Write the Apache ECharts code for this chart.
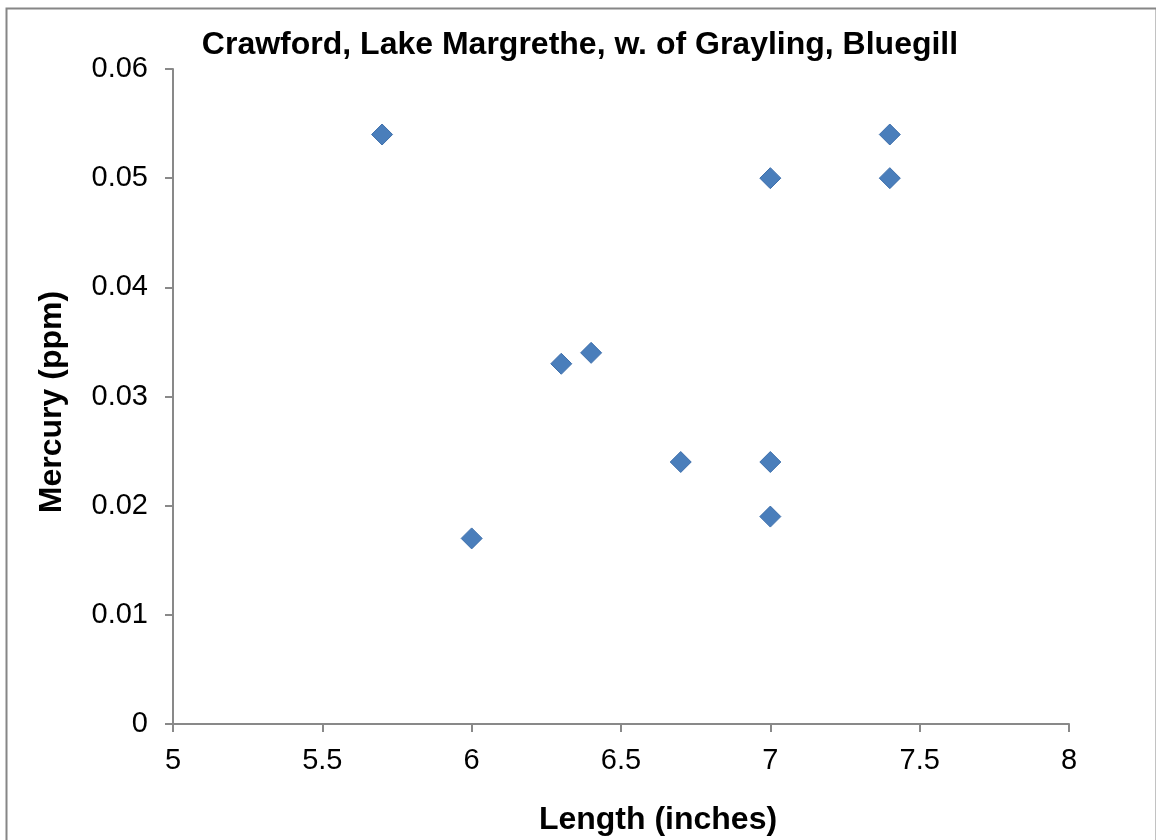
<!DOCTYPE html>
<html><head><meta charset="utf-8">
<script src="https://cdn.jsdelivr.net/npm/echarts@6/dist/echarts.min.js"></script>
<style>html,body{margin:0;padding:0;background:#fff}#c{width:1156px;height:840px}</style>
</head><body><div id="c"></div>
<script>
const title = "Crawford, Lake Margrethe, w. of Grayling, Bluegill";
const xName = "Length (inches)";
const yName = "Mercury (ppm)";
const lengths = [5.7, 6.0, 6.3, 6.4, 6.7, 7.0, 7.0, 7.0, 7.4, 7.4];
const mercury = [0.054, 0.017, 0.033, 0.034, 0.024, 0.050, 0.024, 0.019, 0.054, 0.050];
const points = lengths.map((x, i) => [x, mercury[i]]);
const font = "Liberation Sans, Arial, sans-serif";
const chart = echarts.init(document.getElementById('c'));
chart.setOption({
  animation: false,
  backgroundColor: '#fff',
  grid: {left: 173, right: 87, top: 69, bottom: 116},
  xAxis: {
    type: 'value', min: 5, max: 8, interval: 0.5,
    axisLine: {lineStyle: {color: '#898989', width: 2}},
    axisTick: {show: true, length: 8, lineStyle: {color: '#898989', width: 2}},
    splitLine: {show: false},
    axisLabel: {color: '#000', fontSize: 29, fontFamily: font, margin: 22}
  },
  yAxis: {
    type: 'value', min: 0, max: 0.06, interval: 0.01,
    axisLine: {show: true, lineStyle: {color: '#898989', width: 2}},
    axisTick: {show: true, length: 8, lineStyle: {color: '#898989', width: 2}},
    splitLine: {show: false},
    axisLabel: {color: '#000', fontSize: 29, fontFamily: font, margin: 25,
      formatter: v => v === 0 ? '0' : v.toFixed(2)}
  },
  series: [{
    type: 'scatter', data: points, symbol: 'diamond', symbolSize: 21,
    itemStyle: {color: '#4A7EBB', borderColor: '#3F70AC', borderWidth: 1, opacity: 1}
  }],
  graphic: [
    {type: 'rect', left: 4, top: 6, shape: {width: 1150, height: 840}, style: {fill: 'none', stroke: '#868686', lineWidth: 2}, silent: true},
    {type: 'text', x: 580, y: 45, style: {text: title, font: 'bold 32px ' + font, fill: '#000', textAlign: 'center', textVerticalAlign: 'middle'}},
    {type: 'text', x: 658, y: 820, style: {text: xName, font: 'bold 32px ' + font, fill: '#000', textAlign: 'center', textVerticalAlign: 'middle'}},
    {type: 'text', x: 52, y: 402, rotation: Math.PI / 2, style: {text: yName, font: 'bold 32px ' + font, fill: '#000', textAlign: 'center', textVerticalAlign: 'middle'}}
  ]
});
</script></body></html>
